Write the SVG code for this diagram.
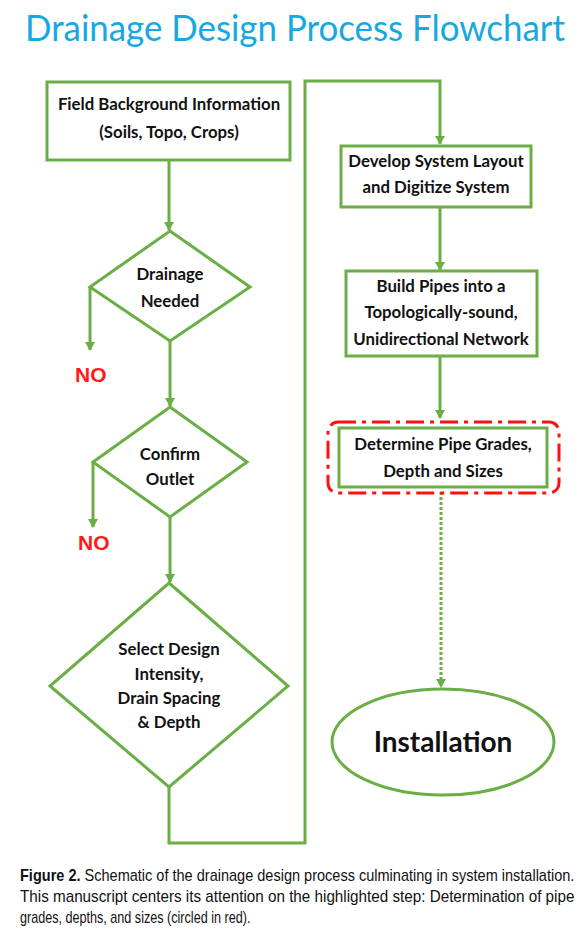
<svg xmlns="http://www.w3.org/2000/svg" width="585" height="934" viewBox="0 0 585 934">
<style>
.shape{fill:#fff;stroke:#6aae45;stroke-width:3}
.conn{fill:none;stroke:#6aae45;stroke-width:3}
.dot{fill:none;stroke:#6aae45;stroke-width:3;stroke-dasharray:3 2}
.t{font-family:Lato,"Open Sans",sans-serif;font-weight:bold;font-size:16.8px;fill:#111;text-anchor:middle}
.no{font-family:"Liberation Sans",Arial,sans-serif;font-weight:bold;font-size:21px;fill:#ff1a1a}
.cap{font-family:"Liberation Sans",Arial,sans-serif;font-size:16px;fill:#111}
</style>
<defs>
<marker id="ah" markerWidth="10" markerHeight="10" refX="8" refY="5" orient="auto" markerUnits="userSpaceOnUse">
<path d="M0,0 L9,5 L0,10 Z" fill="#6aae45"/>
</marker>
</defs>
<rect width="585" height="934" fill="#fff"/>
<text x="25" y="41" font-family="Lato,'Open Sans',sans-serif" font-size="36" fill="#16a8e2" textLength="540" lengthAdjust="spacingAndGlyphs">Drainage Design Process Flowchart</text>

<g id="connectors">
<line class="conn" x1="169" y1="160" x2="169" y2="230" marker-end="url(#ah)"/>
<line class="conn" x1="90" y1="287" x2="90" y2="350" marker-end="url(#ah)"/>
<line class="conn" x1="170" y1="341" x2="170" y2="406" marker-end="url(#ah)"/>
<line class="conn" x1="93" y1="462" x2="93" y2="527" marker-end="url(#ah)"/>
<line class="conn" x1="170" y1="517" x2="170" y2="582" marker-end="url(#ah)"/>
<polyline class="conn" points="169,787 169,843 305,843 305,81 440,81 440,144" marker-end="url(#ah)"/>
<line class="conn" x1="440" y1="207" x2="440" y2="270" marker-end="url(#ah)"/>
<line class="conn" x1="440" y1="356" x2="440" y2="418" marker-end="url(#ah)"/>
<line class="dot" x1="441" y1="492" x2="441" y2="687" marker-end="url(#ah)"/>
</g>

<g id="n1">
<rect class="shape" x="47" y="82" width="243" height="78"/>
<text class="t" x="169" y="110">Field Background Information</text>
<text class="t" x="169" y="138">(Soils, Topo, Crops)</text>
</g>

<g id="d1">
<polygon class="shape" points="170,231 250,287 170,341 90,287"/>
<text class="t" x="170" y="280">Drainage</text>
<text class="t" x="170" y="307">Needed</text>
</g>
<g id="no1"><text class="no" x="75" y="382">NO</text></g>

<g id="d2">
<polygon class="shape" points="170,407 247,462 170,517 93,462"/>
<text class="t" x="170" y="460">Confirm</text>
<text class="t" x="170" y="485">Outlet</text>
</g>
<g id="no2"><text class="no" x="78" y="550">NO</text></g>

<g id="d3">
<polygon class="shape" points="169,583 288,686 169,787 50,686"/>
<text class="t" x="169" y="655">Select Design</text>
<text class="t" x="169" y="680">Intensity,</text>
<text class="t" x="169" y="704">Drain Spacing</text>
<text class="t" x="169" y="728">&amp; Depth</text>
</g>

<g id="n2">
<rect class="shape" x="341" y="146" width="190" height="61"/>
<text class="t" x="436" y="167">Develop System Layout</text>
<text class="t" x="436" y="193">and Digitize System</text>
</g>

<g id="n3">
<rect class="shape" x="346" y="271" width="191" height="85"/>
<text class="t" x="441" y="292">Build Pipes into a</text>
<text class="t" x="441" y="318">Topologically-sound,</text>
<text class="t" x="441" y="345">Unidirectional Network</text>
</g>

<g id="n4">
<rect x="328" y="422" width="231" height="71" rx="10" fill="none" stroke="#ff1010" stroke-width="3" stroke-dasharray="18 6 4 6"/>
<rect class="shape" x="339" y="428" width="208" height="59"/>
<text class="t" x="443" y="450">Determine Pipe Grades,</text>
<text class="t" x="443" y="477">Depth and Sizes</text>
</g>

<g id="n5">
<ellipse class="shape" cx="443" cy="742" rx="111" ry="53"/>
<text x="443" y="752" font-family="Lato,'Open Sans',sans-serif" font-weight="bold" font-size="28" fill="#111" text-anchor="middle">Installation</text>
</g>

<g id="caption" transform="translate(20,0) scale(0.8,1)">
<text class="cap" x="0" y="881" textLength="693" lengthAdjust="spacingAndGlyphs"><tspan font-weight="bold">Figure 2.</tspan> Schematic of the drainage design process culminating in system installation.</text>
<text class="cap" x="0" y="902" textLength="693" lengthAdjust="spacingAndGlyphs">This manuscript centers its attention on the highlighted step: Determination of pipe</text>
<text class="cap" x="0" y="923" textLength="288" lengthAdjust="spacingAndGlyphs">grades, depths, and sizes (circled in red).</text>
</g>
</svg>
